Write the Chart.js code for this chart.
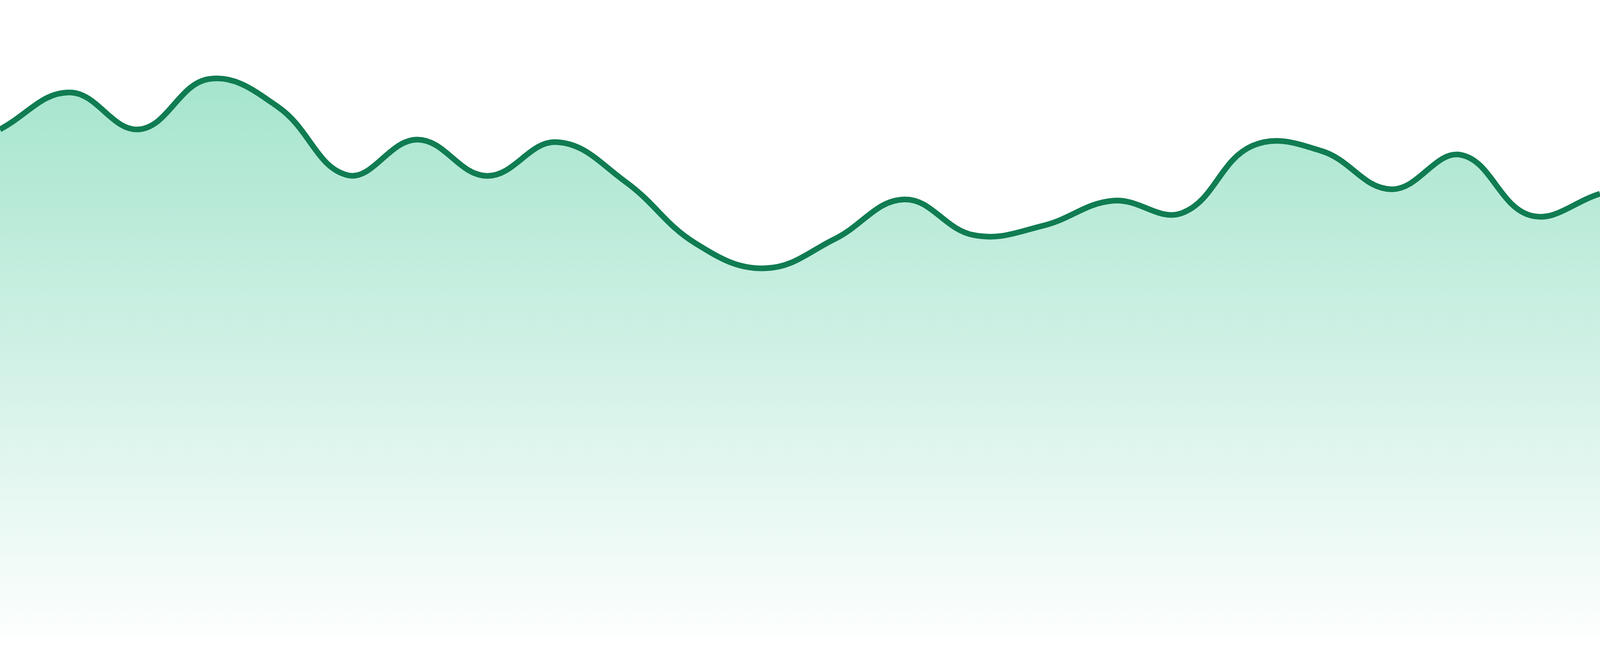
<!DOCTYPE html>
<html>
<head>
<meta charset="utf-8">
<script src="https://cdn.jsdelivr.net/npm/chart.js@4/dist/chart.umd.min.js"></script>
<style>
    html, body { margin: 0; padding: 0; background: #FFF; overflow: hidden; }
    .chart-wrap { width: 100vw; height: 100vh; position: relative; }
</style>
</head>
<body>
<div class="chart-wrap"><canvas id="chart"></canvas></div>
<script>
// Categories (no visible axis in the picture)
const labels = [
    "01", "02", "03", "04", "05", "06", "07", "08",
    "09", "10", "11", "12", "13", "14", "15", "16",
    "17", "18", "19", "20", "21", "22", "23", "24"
];

// Series values
const values = [
    79.7, 85.5, 79.7, 87.6, 83.2, 72.5, 78.1, 72.4,
    77.7, 71.4, 61.8, 57.9, 62.5, 68.7, 63.1, 64.6,
    68.5, 66.6, 77.1, 76.3, 70.3, 75.7, 66.2, 69.6
];

// Value range of the hidden y axis
const yRange = [0, 100];

const lineColor = "#107c52";

// the reference is 4800x1680, keep sizes relative to the viewport
const W = window.innerWidth;
const H = window.innerHeight;

function fillGradient(context) {
    const area = context.chart.chartArea;
    if (!area) {
        return "rgba(52, 195, 143, 0.3)";
    }
    const g = context.chart.ctx.createLinearGradient(0, area.top, 0, area.bottom);
    g.addColorStop(0, "rgba(52, 195, 143, 0.5)");
    g.addColorStop(1, "rgba(52, 195, 143, 0.01)");
    return g;
}

new Chart(document.getElementById("chart"), {
    type: "line",
    data: {
        labels: labels,
        datasets: [{
            data: values,
            borderColor: lineColor,
            borderWidth: W * 17 / 4800,
            backgroundColor: fillGradient,
            fill: "start",
            tension: 0.4,
            pointRadius: 0,
            pointHoverRadius: 0
        }]
    },
    options: {
        responsive: true,
        maintainAspectRatio: false,
        animation: false,
        layout: {
            padding: { top: 0, left: 0, right: 0, bottom: H * 48 / 1680 }
        },
        scales: {
            x: { display: false, offset: false },
            y: { display: false, min: yRange[0], max: yRange[1] }
        },
        plugins: {
            legend: { display: false },
            tooltip: { enabled: false }
        }
    }
});
</script>
</body>
</html>
